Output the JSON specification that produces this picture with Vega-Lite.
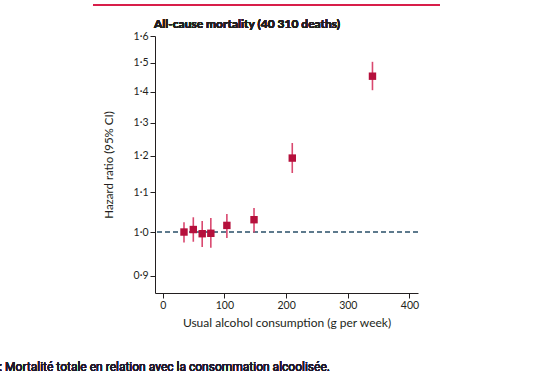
{
  "$schema": "https://vega.github.io/schema/vega-lite/v6.json",
  "autosize": {"type": "none"},
  "width": 263,
  "height": 257,
  "padding": {"left": 155, "top": 36, "right": 118, "bottom": 86},
  "background": "white",
  "config": {"view": {"stroke": null}, "font": "Lato"},
  "data": {
    "values": [
      {"x": 34.5, "hr": 1.0, "lo": 0.975, "hi": 1.024},
      {"x": 49.6, "hr": 1.006, "lo": 0.977, "hi": 1.036},
      {"x": 64, "hr": 0.996, "lo": 0.965, "hi": 1.027},
      {"x": 78, "hr": 0.997, "lo": 0.963, "hi": 1.034},
      {"x": 104, "hr": 1.016, "lo": 0.986, "hi": 1.044},
      {"x": 148, "hr": 1.03, "lo": 0.999, "hi": 1.059},
      {"x": 210, "hr": 1.194, "lo": 1.152, "hi": 1.238},
      {"x": 340, "hr": 1.453, "lo": 1.405, "hi": 1.504}
    ]
  },
  "layer": [
    {
      "mark": {"type": "rule", "color": "#5d7b8e", "strokeDash": [5, 3], "strokeWidth": 1},
      "encoding": {"y": {"datum": 1.0, "type": "quantitative"}}
    },
    {
      "mark": {"type": "rule", "color": "#d9486f", "strokeWidth": 1.6},
      "encoding": {
        "x": {
          "field": "x", "type": "quantitative",
          "scale": {"domain": [-12.5, 413.8], "nice": false, "zero": false},
          "axis": {
            "values": [0, 100, 200, 300, 400],
            "title": "Usual alcohol consumption (g per week)",
            "grid": false,
            "domainColor": "#231f20",
            "tickColor": "#231f20",
            "tickSize": 5,
            "labelFont": "Lato",
            "labelFontSize": 10.5,
            "labelColor": "#231f20",
            "labelPadding": 2,
            "titleFont": "Lato",
            "titleFontSize": 12,
            "titleFontWeight": "normal",
            "titleColor": "#231f20",
            "titlePadding": 7
          }
        },
        "y": {
          "field": "lo", "type": "quantitative",
          "scale": {"type": "log", "domain": [0.864, 1.6], "nice": false},
          "axis": {
            "values": [0.9, 1.0, 1.1, 1.2, 1.3, 1.4, 1.5, 1.6],
            "labelExpr": "replace(format(datum.value, '.1f'), '.', '·')",
            "title": "Hazard ratio (95% CI)",
            "grid": false,
            "domainColor": "#231f20",
            "tickColor": "#231f20",
            "tickSize": 5,
            "labelFont": "Lato",
            "labelFontSize": 10.5,
            "labelColor": "#231f20",
            "labelPadding": 2,
            "titleFont": "Lato",
            "titleFontSize": 11.5,
            "titleFontWeight": "normal",
            "titleColor": "#231f20",
            "titlePadding": 19
          }
        },
        "y2": {"field": "hi"}
      }
    },
    {
      "mark": {"type": "point", "shape": "square", "filled": true, "color": "#b5103c", "opacity": 1, "size": 55},
      "encoding": {
        "x": {"field": "x", "type": "quantitative"},
        "y": {"field": "hr", "type": "quantitative"}
      }
    },
    {
      "mark": {"type": "rule", "color": "#d81e4a", "strokeWidth": 1.5, "clip": false},
      "encoding": {
        "x": {"datum": -113, "type": "quantitative"},
        "x2": {"datum": 449},
        "y": {"datum": 1.722, "type": "quantitative"}
      }
    },
    {
      "mark": {"type": "text", "align": "left", "baseline": "middle", "font": "Lato", "fontSize": 12, "fontWeight": "bold", "color": "#231f20", "clip": false},
      "encoding": {
        "x": {"datum": -14.1, "type": "quantitative"},
        "y": {"datum": 1.6455, "type": "quantitative"},
        "text": {"value": "All-cause mortality (40 310 deaths)"}
      }
    },
    {
      "mark": {"type": "text", "align": "left", "baseline": "middle", "font": "Roboto", "fontSize": 12, "fontWeight": "normal", "color": "#1f1a2e", "clip": false},
      "encoding": {
        "x": {"datum": -265, "type": "quantitative"},
        "y": {"datum": 0.7227, "type": "quantitative"},
        "text": {"value": ": Mortalité totale en relation avec la consommation alcoolisée."}
      }
    }
  ]
}
